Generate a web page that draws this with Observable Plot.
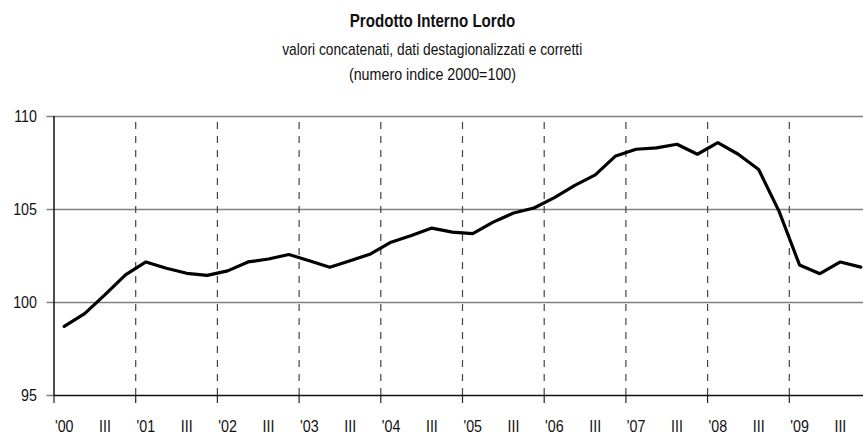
<!DOCTYPE html>
<html>
<head>
<meta charset="utf-8">
<script src="https://cdn.jsdelivr.net/npm/d3@7"></script>
<script src="https://cdn.jsdelivr.net/npm/@observablehq/plot@0.6"></script>
<style>
  html, body { margin: 0; padding: 0; background: #fff; overflow: hidden; }
  #wrap { position: relative; width: 863px; height: 434px; font-family: "Liberation Sans", Arial, sans-serif; color: #111; }
  .t { position: absolute; left: 0; width: 864px; text-align: center; line-height: 20px; white-space: nowrap; }
  .t span { display: inline-block; transform: scaleX(0.84); transform-origin: center; opacity: 0.999; }
  #sub1 span { transform: scaleX(0.81); }
  #title { top: 11px; font-size: 18px; font-weight: bold; }
  #sub1 { top: 40px; font-size: 17px; }
  #sub2 { top: 65px; font-size: 17px; }
  #chart { position: absolute; left: 0; top: 90px; }
  #chart svg g[aria-label$="tick label"] { opacity: 0.999; }
</style>
</head>
<body>
<div id="wrap">
  <div class="t" id="title"><span>Prodotto Interno Lordo</span></div>
  <div class="t" id="sub1"><span>valori concatenati, dati destagionalizzati e corretti</span></div>
  <div class="t" id="sub2"><span>(numero indice 2000=100)</span></div>
  <div id="chart"></div>
</div>
<script>
// Quarterly GDP index, 2000 Q1 .. 2009 Q4
const years = ["'00","'01","'02","'03","'04","'05","'06","'07","'08","'09"];
const quarterLabels = ["I","II","III","IV"];
const values = [
  98.72, 99.40, 100.42, 101.48,
  102.18, 101.84, 101.57, 101.46,
  101.70, 102.18, 102.34, 102.58,
  102.24, 101.89, 102.25, 102.61,
  103.24, 103.60, 104.00, 103.78,
  103.70, 104.32, 104.81, 105.08,
  105.64, 106.30, 106.86, 107.88,
  108.24, 108.31, 108.51, 107.97,
  108.60, 107.97, 107.15, 104.90,
  102.02, 101.55, 102.18, 101.90
];
const yTicks = [95, 100, 105, 110];

const data = values.map((v, i) => ({q: i + 0.5, v}));
const yearStarts = years.map((_, k) => k * 4);
const labelPos = [];
const labelText = new Map();
years.forEach((y, k) => {
  labelPos.push(k * 4 + 0.5); labelText.set(k * 4 + 0.5, y);
  labelPos.push(k * 4 + 2.5); labelText.set(k * 4 + 2.5, quarterLabels[2]);
});

const W = 863, mL = 53.5, qW = 20.425;
const xMax = (W - mL) / qW;

const chart = Plot.plot({
  width: W,
  height: 344,
  marginTop: 26,
  marginBottom: 39,
  marginLeft: mL,
  marginRight: 0,
  style: {fontFamily: '"Liberation Sans", Arial, sans-serif', fontSize: "17px", color: "#111", background: "#fff", overflow: "visible"},
  x: {type: "linear", domain: [0, xMax], axis: null},
  y: {domain: [95, 110], axis: null},
  marks: [
    Plot.ruleY(yTicks.filter(d => d > 95), {stroke: "#7f7f7f", strokeWidth: 1.5}),
    Plot.ruleX(yearStarts.filter(d => d > 0), {y1: 95, y2: 110, stroke: "#444", strokeWidth: 1.2, strokeDasharray: "7,7"}),
    Plot.axisX(yearStarts, {tickSize: 8, tickFormat: () => "", label: null, stroke: "#222", strokeWidth: 1.2}),
    Plot.axisX(labelPos, {tickSize: 0, tickPadding: 24, label: null, tickFormat: d => labelText.get(d), fill: "#111"}),
    Plot.axisY(yTicks, {tickSize: 7, tickPadding: 10, label: null, stroke: "#7f7f7f", strokeWidth: 1.5, fill: "#111"}),
    Plot.ruleY([95], {stroke: "#111", strokeWidth: 1.5}),
    Plot.ruleX([0], {y1: 95, y2: 110, stroke: "#111", strokeWidth: 1.5}),
    Plot.line(data, {x: "q", y: "v", stroke: "#000", strokeWidth: 3.2, strokeLinejoin: "miter"})
  ]
});
// Narrow the tick labels horizontally around their anchor point (Arial Narrow look)
chart.querySelectorAll("text").forEach(t => {
  const tr = t.getAttribute("transform") || "";
  t.setAttribute("transform", (tr + " scale(0.84,1)").trim());
});
document.getElementById("chart").appendChild(chart);
</script>
</body>
</html>
